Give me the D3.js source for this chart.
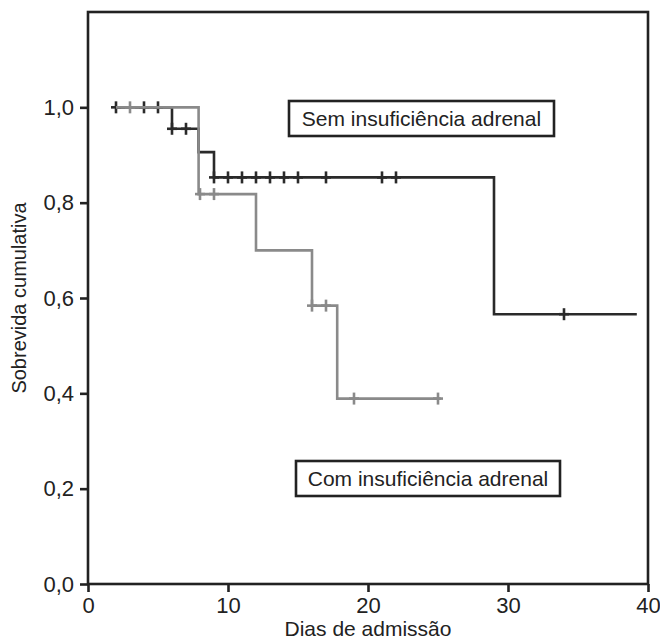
<!DOCTYPE html>
<html>
<head>
<meta charset="utf-8">
<script src="https://cdn.jsdelivr.net/npm/d3@7"></script>
<style>
  body { margin: 0; background: #fff; }
  svg { display: block; font-family: "Liberation Sans", Arial, sans-serif; }
</style>
</head>
<body>
<svg id="chart" width="660" height="641"></svg>
<script>
// Sem insuficiencia adrenal
const semTimes = [2, 6, 7.9, 9, 29]
const semSurv = [1.0, 0.955, 0.906, 0.853, 0.566]
const semEnd = 39.2
const semCensor = [2, 4, 5, 6, 7, 9, 10, 11, 12, 13, 14, 15, 17, 21, 22, 34]

// Com insuficiencia adrenal
const comTimes = [2, 7.9, 12, 16, 17.8]
const comSurv = [1.0, 0.818, 0.70, 0.584, 0.389]
const comEnd = 25.2
const comCensor = [3, 8, 9, 16, 17, 19, 25]

const xTicks = [0, 10, 20, 30, 40]
const yTicks = [0, 0.2, 0.4, 0.6, 0.8, 1.0]

const svg = d3.select('#chart')
const x = d3.scaleLinear().domain([0, 40]).range([88, 648])
const y = d3.scaleLinear().domain([0, 1.2]).range([584, 12])
const fmt = d => d3.format('.1f')(d).replace('.', ',')
const fontSize = 21

function survAt (times, surv, t) {
  let s = surv[0]
  times.forEach((ti, i) => { if (ti <= t) s = surv[i] })
  return s
}

function drawCurve (times, surv, end, censor, color) {
  const pts = times.map((t, i) => [t, surv[i]])
  pts.push([end, surv[surv.length - 1]])
  const line = d3.line().x(d => x(d[0])).y(d => y(d[1])).curve(d3.curveStepAfter)
  const g = svg.append('g')
  g.append('path')
    .attr('d', line(pts))
    .attr('fill', 'none')
    .attr('stroke', color)
    .attr('stroke-width', 2.6)
  g.selectAll('.cv').data(censor).enter().append('line')
    .attr('x1', d => x(d)).attr('x2', d => x(d))
    .attr('y1', d => y(survAt(times, surv, d)) - 6)
    .attr('y2', d => y(survAt(times, surv, d)) + 6)
    .attr('stroke', color).attr('stroke-width', 2.6)
  g.selectAll('.ch').data(censor).enter().append('line')
    .attr('x1', d => x(d) - 5).attr('x2', d => x(d) + 5)
    .attr('y1', d => y(survAt(times, surv, d)))
    .attr('y2', d => y(survAt(times, surv, d)))
    .attr('stroke', color).attr('stroke-width', 2.6)
}

drawCurve(semTimes, semSurv, semEnd, semCensor, '#2a2a2a')
drawCurve(comTimes, comSurv, comEnd, comCensor, '#8a8a8a')

// frame
svg.append('rect')
  .attr('x', x(0)).attr('y', y(1.2))
  .attr('width', x(40) - x(0)).attr('height', y(0) - y(1.2))
  .attr('fill', 'none').attr('stroke', '#222').attr('stroke-width', 2.6)

const xAxis = svg.append('g')
  .attr('transform', 'translate(0,' + y(0) + ')')
  .call(d3.axisBottom(x).tickValues(xTicks).tickSize(8).tickPadding(5).tickFormat(d3.format('d')))
const yAxis = svg.append('g')
  .attr('transform', 'translate(' + x(0) + ',0)')
  .call(d3.axisLeft(y).tickValues(yTicks).tickSize(8).tickPadding(6).tickFormat(fmt))

;[xAxis, yAxis].forEach(a => {
  a.select('.domain').remove()
  a.selectAll('line').attr('stroke', '#222').attr('stroke-width', 2.6)
  a.selectAll('text').attr('fill', '#222').style('font-size', '22px')
    .style('font-family', '"Liberation Sans", Arial, sans-serif')
})

svg.append('text')
  .attr('x', x(20)).attr('y', 636)
  .attr('text-anchor', 'middle')
  .attr('fill', '#222')
  .style('font-size', fontSize + 'px')
  .text('Dias de admissão')

svg.append('text')
  .attr('transform', 'translate(26,' + y(0.6) + ') rotate(-90)')
  .attr('text-anchor', 'middle')
  .attr('fill', '#222')
  .style('font-size', '20px')
  .text('Sobrevida cumulativa')

// legend boxes
const legends = [
  { label: 'Sem insuficiência adrenal', x: 289, y: 101, w: 265, h: 35 },
  { label: 'Com insuficiência adrenal', x: 296, y: 461, w: 264, h: 35 }
]
legends.forEach(l => {
  const g = svg.append('g')
  g.append('rect')
    .attr('x', l.x).attr('y', l.y).attr('width', l.w).attr('height', l.h)
    .attr('fill', '#fff').attr('stroke', '#222').attr('stroke-width', 2.6)
  g.append('text')
    .attr('x', l.x + l.w / 2).attr('y', l.y + l.h / 2 + 7)
    .attr('text-anchor', 'middle')
    .attr('fill', '#222')
    .style('font-size', fontSize + 'px')
    .text(l.label)
})
</script>
</body>
</html>
